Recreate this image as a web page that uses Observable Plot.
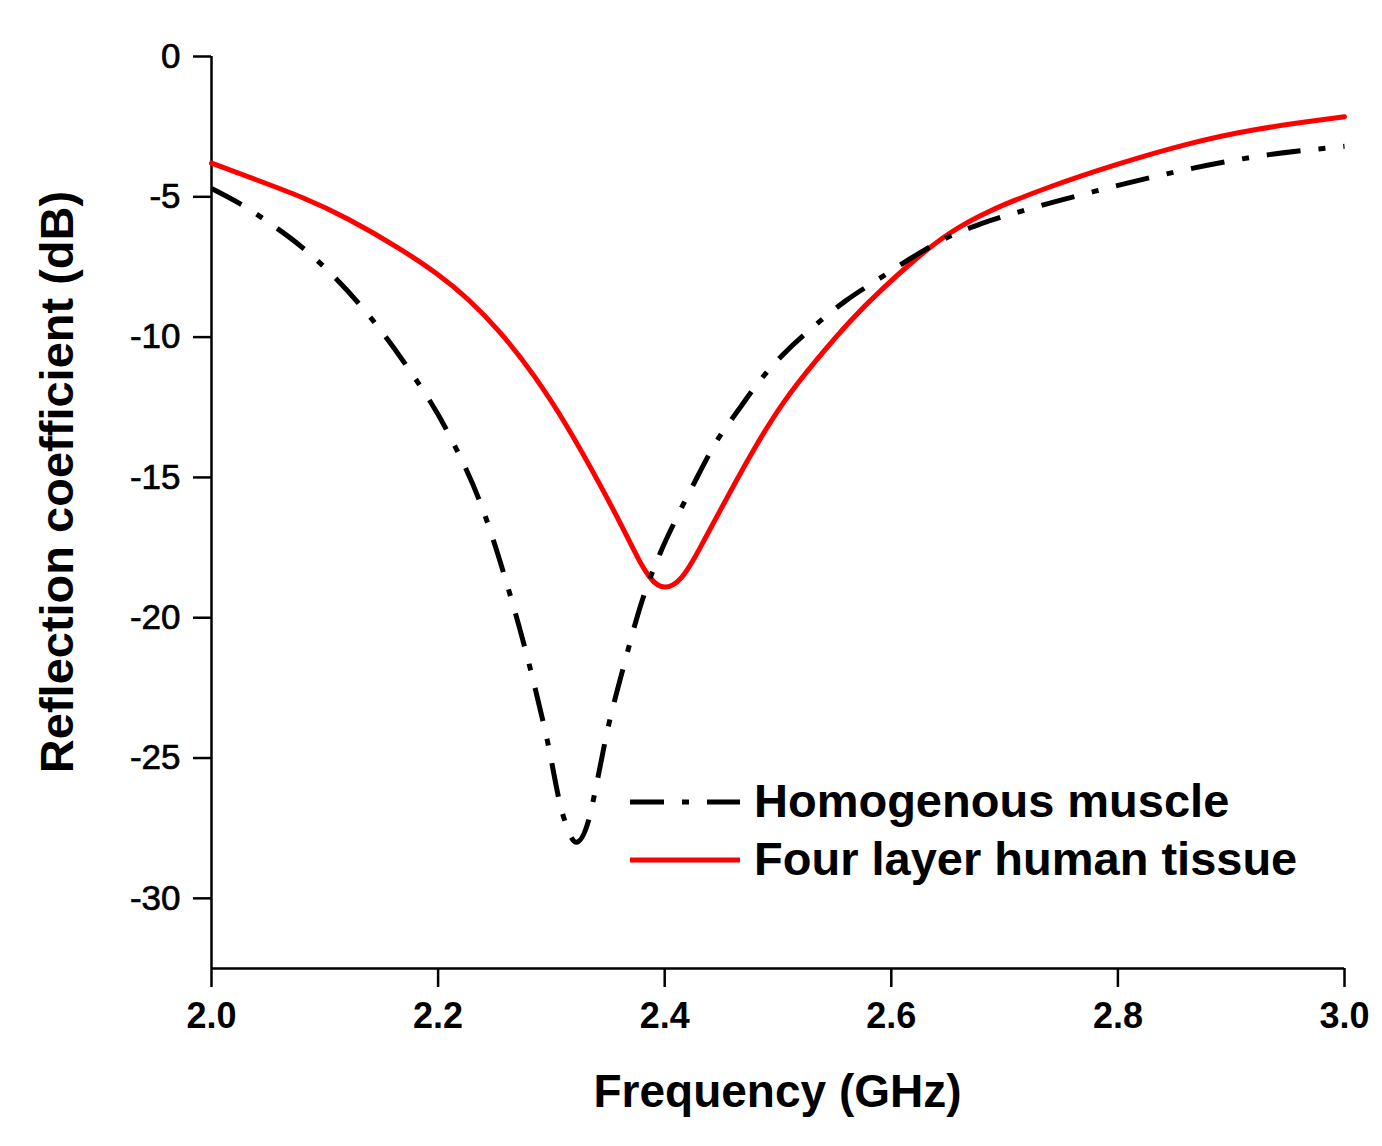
<!DOCTYPE html>
<html>
<head>
<meta charset="utf-8">
<script src="https://cdn.jsdelivr.net/npm/d3@7"></script>
<script src="https://cdn.jsdelivr.net/npm/@observablehq/plot@0.6"></script>
<style>
  html, body { margin: 0; padding: 0; background: #ffffff; }
  #wrap { position: relative; width: 1382px; height: 1146px; overflow: hidden; background: #ffffff;
          font-family: "Liberation Sans", Arial, sans-serif; }
  #wrap svg.plot { position: absolute; left: 0; top: 0; }
  g[aria-label="x-axis tick label"], g[aria-label="x-axis tick label"] text { font-size: 36px !important; font-weight: bold !important; }
  g[aria-label="y-axis tick label"], g[aria-label="y-axis tick label"] text { font-size: 35px !important; }
  g[aria-label="y-axis tick label"] text { stroke: #000; stroke-width: 0.7px; }
  g[aria-label="x-axis tick"], g[aria-label="x-axis tick"] path,
  g[aria-label="y-axis tick"], g[aria-label="y-axis tick"] path { stroke-width: 2.5px !important; stroke: #000 !important; }
  .title { position: absolute; white-space: nowrap; line-height: 1; font-weight: bold; color: #000; }
  #ytitle { left: 56px; top: 482px; font-size: 47px; transform: translate(-50%, -50%) rotate(-90deg); }
  #xtitle { left: 777.5px; top: 1068px; font-size: 46px; transform: translateX(-50%); }
  #legend { position: absolute; left: 0; top: 0; pointer-events: none; }
</style>
</head>
<body>
<div id="wrap"></div>
<script>
// ---- data ----
const seriesNames = ["Homogenous muscle", "Four layer human tissue"];
const xTitle = "Frequency (GHz)";
const yTitle = "Reflection coefficient (dB)";
const xTicks = [2.0, 2.2, 2.4, 2.6, 2.8, 3.0];
const yTicks = [0, -5, -10, -15, -20, -25, -30];

// Homogenous muscle (black dash-dot)
const freqMuscle = [2.00, 2.025, 2.05, 2.08, 2.13, 2.17, 2.21, 2.24, 2.26, 2.28, 2.296, 2.31, 2.322, 2.333,
  2.34, 2.349, 2.364, 2.38, 2.396, 2.411, 2.426, 2.446, 2.465, 2.485, 2.505, 2.535, 2.56, 2.59, 2.623,
  2.652, 2.68, 2.72, 2.78, 2.85, 2.92, 3.00];
const dbMuscle = [-4.70, -5.24, -5.90, -6.80, -8.80, -10.9, -13.5, -16.2, -18.7, -21.6, -24.3, -27.0, -28.0, -27.2,
  -25.9, -24.1, -21.7, -19.4, -17.7, -16.4, -15.2, -13.7, -12.6, -11.5, -10.6, -9.5, -8.7, -7.9, -7.05,
  -6.4, -5.95, -5.45, -4.8, -4.12, -3.58, -3.2];

// Four layer human tissue (red solid)
const freqTissue = [2.00, 2.04, 2.08, 2.12, 2.167, 2.20, 2.226, 2.255, 2.285, 2.314, 2.343, 2.365, 2.377,
  2.387, 2.394, 2.40, 2.407, 2.415, 2.424, 2.434, 2.446, 2.476, 2.505, 2.535, 2.565, 2.59, 2.623, 2.65,
  2.682, 2.74, 2.80, 2.86, 2.92, 3.00];
const dbTissue = [-3.8, -4.4, -5.0, -5.75, -6.85, -7.75, -8.6, -9.8, -11.35, -13.15, -15.25, -16.95, -17.95,
  -18.6, -18.86, -18.93, -18.86, -18.6, -18.05, -17.3, -16.4, -14.15, -12.25, -10.75, -9.35, -8.35, -7.15, -6.3,
  -5.55, -4.62, -3.82, -3.11, -2.57, -2.15];

const yDomain = [-32.5, 0];
const xDomain = [2, 3];

// ---- build tables ----
const muscle = freqMuscle.map((f, i) => ({f, db: dbMuscle[i]}));
const tissue = freqTissue.map((f, i) => ({f, db: dbTissue[i]}));

const dash = "34,18,7,18";

const chart = Plot.plot({
  width: 1382,
  height: 1146,
  marginLeft: 211,
  marginRight: 38,
  marginTop: 56,
  marginBottom: 178,
  style: {fontFamily: "'Liberation Sans', Arial, sans-serif", background: "transparent", color: "#000", overflow: "visible"},
  x: {domain: xDomain},
  y: {domain: yDomain},
  marks: [
    Plot.ruleX([xDomain[0]], {stroke: "#000", strokeWidth: 2.5}),
    Plot.ruleY([yDomain[0]], {stroke: "#000", strokeWidth: 2.5}),
    Plot.axisX({ticks: xTicks, tickSize: 19, tickPadding: 15, tickFormat: d3.format(".1f"),
      fontSize: 36, fontWeight: "bold", strokeWidth: 2.5, label: null}),
    Plot.axisY({ticks: yTicks, tickSize: 18, tickPadding: 13, tickFormat: d => String(d),
      fontSize: 35, strokeWidth: 2.5, label: null}),
    Plot.line(tissue, {x: "f", y: "db", stroke: "#ff0000", strokeWidth: 5, curve: "basis"}),
    Plot.line(muscle, {x: "f", y: "db", stroke: "#000", strokeWidth: 5, strokeDasharray: dash,
      strokeLinecap: "butt", curve: "monotone-x"})
  ]
});

const wrap = document.getElementById("wrap");
wrap.appendChild(chart);

// axis titles
const yt = document.createElement("div");
yt.className = "title"; yt.id = "ytitle"; yt.textContent = yTitle;
wrap.appendChild(yt);
const xt = document.createElement("div");
xt.className = "title"; xt.id = "xtitle"; xt.textContent = xTitle;
wrap.appendChild(xt);

// legend
const ns = "http://www.w3.org/2000/svg";
const leg = document.createElementNS(ns, "svg");
leg.setAttribute("id", "legend");
leg.setAttribute("width", 1382);
leg.setAttribute("height", 1146);
const legendStyles = [
  {stroke: "#000", dash: dash, y: 802},
  {stroke: "#ff0000", dash: null, y: 860}
];
seriesNames.forEach((name, i) => {
  const s = legendStyles[i];
  const ln = document.createElementNS(ns, "line");
  ln.setAttribute("x1", 630); ln.setAttribute("x2", 740);
  ln.setAttribute("y1", s.y); ln.setAttribute("y2", s.y);
  ln.setAttribute("stroke", s.stroke); ln.setAttribute("stroke-width", 5);
  if (s.dash) ln.setAttribute("stroke-dasharray", s.dash);
  leg.appendChild(ln);
  const tx = document.createElementNS(ns, "text");
  tx.setAttribute("x", 754); tx.setAttribute("y", s.y + 15);
  tx.setAttribute("font-family", "'Liberation Sans', Arial, sans-serif");
  tx.setAttribute("font-size", 47); tx.setAttribute("font-weight", "bold");
  tx.setAttribute("fill", "#000");
  tx.textContent = name;
  leg.appendChild(tx);
});
wrap.appendChild(leg);
</script>
</body>
</html>
